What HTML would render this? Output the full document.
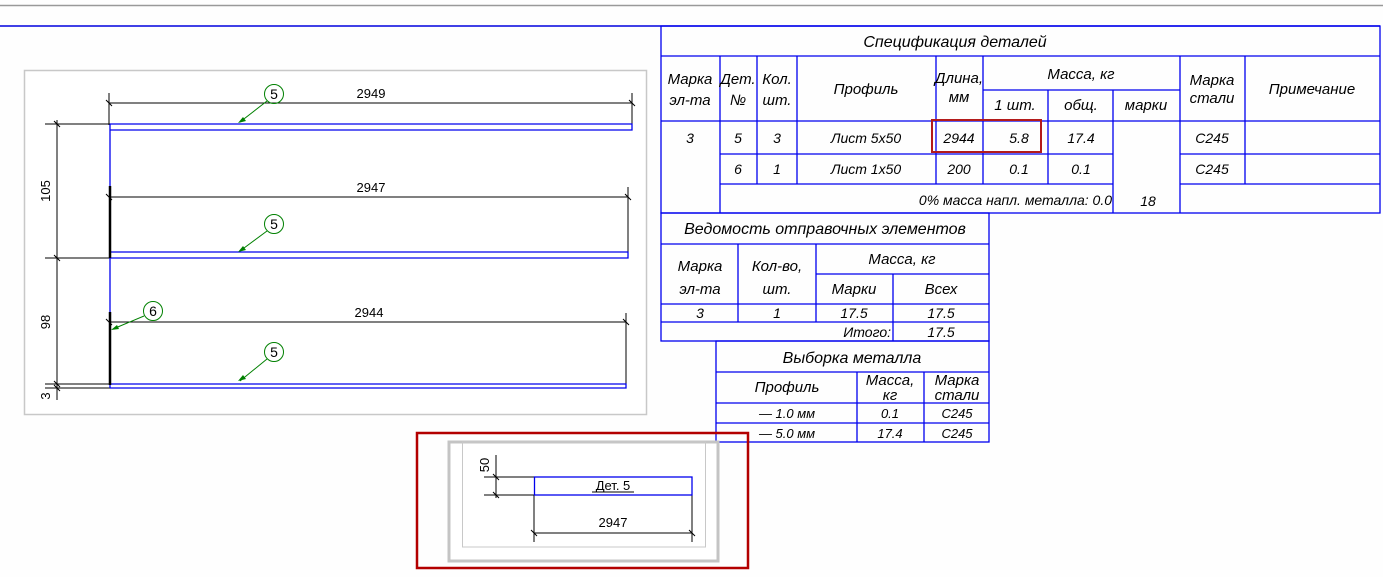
<!DOCTYPE html>
<html><head><meta charset="utf-8"><style>
html,body{margin:0;padding:0;background:#fefefe;}
svg{display:block}
text{font-family:"Liberation Sans Narrow","Liberation Sans",sans-serif;font-style:italic;fill:#000}
text.n{font-style:normal}
</style></head><body>
<svg width="1383" height="577" viewBox="0 0 1383 577" xmlns="http://www.w3.org/2000/svg">
<rect width="1383" height="577" fill="#fefefe"/>
<line x1="0" y1="5.5" x2="1383" y2="5.5" stroke="#999" stroke-width="1.5"/>
<line x1="0" y1="26" x2="1380" y2="26" stroke="#0000dd" stroke-width="1.5"/>

<rect x="24.5" y="70.5" width="622" height="344" fill="#fff" stroke="#c8c8c8" stroke-width="1.5"/>
<g stroke="#000" stroke-width="1" fill="none">
 <line x1="109" y1="103" x2="632" y2="103"/>
 <line x1="109" y1="93" x2="109" y2="125"/>
 <line x1="632" y1="93" x2="632" y2="125"/>
 <line x1="628" y1="187" x2="628" y2="257"/>
 <line x1="109" y1="197" x2="628" y2="197"/>
 <line x1="626" y1="313" x2="626" y2="384"/>
 <line x1="109" y1="322" x2="626" y2="322"/>
 <line x1="57" y1="120" x2="57" y2="400"/>
 <line x1="45" y1="124" x2="110" y2="124"/>
 <line x1="45" y1="258" x2="110" y2="258"/>
 <line x1="45" y1="384" x2="110" y2="384"/>
 <line x1="45" y1="388" x2="110" y2="388"/>
 <path d="M54 121 L60 127 M54 255 L60 261 M54 381 L60 387 M54 385 L60 391 M106 100 L112 106 M629 100 L635 106 M106 194 L112 200 M625 194 L631 200 M106 319 L112 325 M623 319 L629 325"/>
</g>
<g stroke="#0000ee" stroke-width="1.3" fill="none">
 <path d="M110 124 H632 V130 H110"/>
 <path d="M110 252 H628 V258 H110"/>
 <path d="M110 384 H626 V388 H110"/>
 <line x1="110" y1="124" x2="110" y2="388"/>
</g>
<g stroke="#000" stroke-width="2.5">
 <line x1="110" y1="186" x2="110" y2="258"/>
 <line x1="110" y1="312" x2="110" y2="385"/>
</g>
<text class="n" x="371" y="98" font-size="13" text-anchor="middle">2949</text>
<text class="n" x="371" y="192" font-size="13" text-anchor="middle">2947</text>
<text class="n" x="369" y="317" font-size="13" text-anchor="middle">2944</text>
<text class="n" transform="translate(50,191) rotate(-90)" font-size="13" text-anchor="middle">105</text>
<text class="n" transform="translate(50,322) rotate(-90)" font-size="13" text-anchor="middle">98</text>
<text class="n" transform="translate(50,396) rotate(-90)" font-size="13" text-anchor="middle">3</text>
<g stroke="#008000" stroke-width="1" fill="none">
 <circle cx="274" cy="94" r="9.5"/><line x1="267" y1="101" x2="240" y2="122"/>
 <circle cx="274" cy="224" r="9.5"/><line x1="267" y1="231" x2="240" y2="251"/>
 <circle cx="274" cy="352" r="9.5"/><line x1="267" y1="359" x2="240" y2="381"/>
 <circle cx="153" cy="311" r="9.5"/><line x1="144" y1="316" x2="113" y2="329"/>
</g>
<g fill="#008000">
 <path d="M238 123 L243 117 L246 121Z"/><path d="M238 252 L243 246 L246 250Z"/><path d="M238 381 L243 375 L246 379Z"/><path d="M111 330 L117 325 L119 329Z"/>
</g>
<g font-size="14" text-anchor="middle">
 <text class="n" x="274" y="99">5</text><text class="n" x="274" y="229">5</text><text class="n" x="274" y="357">5</text><text class="n" x="153" y="316">6</text>
</g>

<g stroke="#0000ee" stroke-width="1.3" fill="none">
 <rect x="661" y="26" width="719" height="187"/>
 <line x1="661" y1="56" x2="1380" y2="56"/>
 <line x1="661" y1="121" x2="1380" y2="121"/>
 <line x1="720" y1="154" x2="1113" y2="154"/>
 <line x1="1180" y1="154" x2="1380" y2="154"/>
 <line x1="720" y1="184" x2="1113" y2="184"/>
 <line x1="1180" y1="184" x2="1380" y2="184"/>
 <line x1="983" y1="90" x2="1180" y2="90"/>
 <path d="M720 56V213 M757 56V184 M797 56V184 M936 56V184 M983 56V184 M1048 90V184 M1113 90V213 M1180 56V213 M1245 56V184"/>
</g>
<rect x="932" y="120" width="109" height="32" fill="none" stroke="#b31b1b" stroke-width="2"/>
<g font-size="15" text-anchor="middle">
 <text x="955" y="47" font-size="16">Спецификация деталей</text>
 <text x="690" y="84">Марка</text><text x="690" y="105">эл-та</text>
 <text x="738" y="84">Дет.</text><text x="738" y="105">№</text>
 <text x="777" y="84">Кол.</text><text x="777" y="105">шт.</text>
 <text x="866" y="94">Профиль</text>
 <text x="959" y="83">Длина,</text><text x="959" y="102">мм</text>
 <text x="1081" y="79">Масса, кг</text>
 <text x="1015" y="110">1 шт.</text><text x="1081" y="110">общ.</text><text x="1146" y="110">марки</text>
 <text x="1212" y="85">Марка</text><text x="1212" y="103">стали</text>
 <text x="1312" y="94">Примечание</text>
 <g font-size="14">
 <text x="690" y="143">3</text><text x="738" y="143">5</text><text x="777" y="143">3</text>
 <text x="866" y="143">Лист 5х50</text><text x="959" y="143">2944</text><text x="1019" y="143">5.8</text><text x="1081" y="143">17.4</text><text x="1212" y="143">С245</text>
 <text x="738" y="174">6</text><text x="777" y="174">1</text>
 <text x="866" y="174">Лист 1х50</text><text x="959" y="174">200</text><text x="1019" y="174">0.1</text><text x="1081" y="174">0.1</text><text x="1212" y="174">С245</text>
 <text x="1112" y="205" text-anchor="end">0% масса напл. металла: 0.0</text>
 <text x="1148" y="206">18</text>
 </g>
</g>

<g stroke="#0000ee" stroke-width="1.3" fill="none">
 <rect x="661" y="213" width="328" height="128"/>
 <line x1="661" y1="244" x2="989" y2="244"/>
 <line x1="816" y1="274" x2="989" y2="274"/>
 <line x1="661" y1="304" x2="989" y2="304"/>
 <line x1="661" y1="322" x2="989" y2="322"/>
 <path d="M738 244V322 M816 244V322 M893 274V341"/>
 <rect x="716" y="341" width="273" height="101"/>
 <line x1="716" y1="372" x2="989" y2="372"/>
 <line x1="716" y1="403" x2="989" y2="403"/>
 <line x1="716" y1="423" x2="989" y2="423"/>
 <path d="M857 372V442 M924 372V442"/>
</g>
<g font-size="15" text-anchor="middle">
 <text x="825" y="234" font-size="16">Ведомость отправочных элементов</text>
 <text x="700" y="271">Марка</text><text x="700" y="294">эл-та</text>
 <text x="777" y="271">Кол-во,</text><text x="777" y="294">шт.</text>
 <text x="902" y="264">Масса, кг</text>
 <text x="854" y="294">Марки</text><text x="941" y="294">Всех</text>
 <g font-size="14">
 <text x="700" y="318">3</text><text x="777" y="318">1</text><text x="854" y="318">17.5</text><text x="941" y="318">17.5</text>
 <text x="891" y="337" text-anchor="end">Итого:</text><text x="941" y="337">17.5</text>
 </g>
 <text x="852" y="363" font-size="16">Выборка металла</text>
 <text x="787" y="392">Профиль</text>
 <text x="890" y="385">Масса,</text><text x="890" y="400">кг</text>
 <text x="957" y="385">Марка</text><text x="957" y="400">стали</text>
 <g font-size="13">
 <text x="787" y="418">— 1.0 мм</text><text x="890" y="418">0.1</text><text x="957" y="418">С245</text>
 <text x="787" y="438">— 5.0 мм</text><text x="890" y="438">17.4</text><text x="957" y="438">С245</text>
 </g>
</g>

<rect x="449" y="442" width="269" height="119" fill="#fff" stroke="#c4c4c4" stroke-width="3"/>
<rect x="462.5" y="442" width="243" height="105" fill="none" stroke="#c8c8c8" stroke-width="1"/>
<rect x="417" y="433" width="331" height="135" fill="none" stroke="#b30000" stroke-width="2.5"/>
<g stroke="#000" stroke-width="1" fill="none">
 <line x1="484" y1="477" x2="534" y2="477"/>
 <line x1="484" y1="495" x2="534" y2="495"/>
 <line x1="496" y1="455" x2="496" y2="498"/>
 <line x1="534" y1="495" x2="534" y2="542"/>
 <line x1="692" y1="495" x2="692" y2="542"/>
 <line x1="534" y1="533" x2="692" y2="533"/>
 <path d="M493 474 L499 480 M493 492 L499 498 M531 530 L537 536 M689 530 L695 536"/>
 <line x1="592" y1="492" x2="634" y2="492"/>
</g>
<rect x="534.5" y="477" width="157.5" height="18" fill="none" stroke="#0000ee" stroke-width="1.3"/>
<text class="n" x="613" y="490" font-size="13" text-anchor="middle">Дет. 5</text>
<text class="n" x="613" y="527" font-size="13" text-anchor="middle">2947</text>
<text class="n" transform="translate(489,465) rotate(-90)" font-size="13" text-anchor="middle">50</text>
</svg>
</body></html>
